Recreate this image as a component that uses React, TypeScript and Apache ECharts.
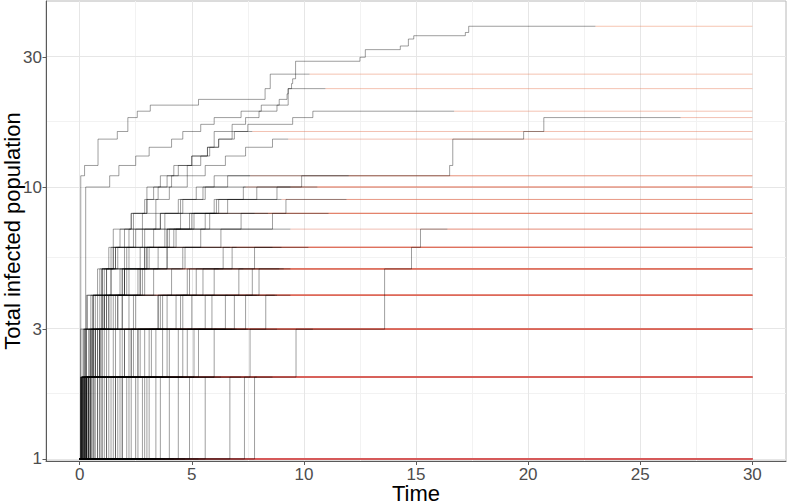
import React, { useEffect, useRef } from "react";
import * as echarts from "echarts";

// ---- axis ranges & ticks ----
const X_MIN = -1.5;
const X_MAX = 31.5;
const HORIZON = 30;
const xTickValues = [0, 5, 10, 15, 20, 25, 30];
const xMinorValues = [2.5, 7.5, 12.5, 17.5, 22.5, 27.5];
const Y_MIN = 0.983;
const Y_MAX = 48.3;
const yTickValues = [1, 3, 10, 30];
const yMinorValues = [1.732, 5.477, 17.32];

// ---- trajectories: step points [time, total infected]; all start at (0, 1) ----
const trajectorySteps: [number, number][][] = [
  // final size 1
  [], [], [], [], [], [], [], [], [], [], [], [], [], [], [], [], [], [],
  [], [], [], [],
  // final size 2
  [[0.05, 2]], [[0.2, 2]], [[0.35, 2]], [[0.5, 2]], [[0.9, 2]], [[1.2, 2]], [[1.6, 2]],
  [[2.1, 2]], [[2.5, 2]], [[3.0, 2]], [[3.6, 2]], [[4.4, 2]], [[6.7, 2]], [[7.8, 2]],
  [[0.12, 2]], [[1.0, 2]], [[1.9, 2]], [[4.0, 2]],
  // final size 3
  [[0.1, 2], [0.4, 3]], [[0.3, 2], [1.1, 3]], [[0.45, 2], [2.0, 3]], [[0.7, 2], [1.6, 3]],
  [[1.0, 2], [3.2, 3]], [[1.4, 2], [2.6, 3]], [[2.2, 2], [4.0, 3]], [[2.9, 2], [5.1, 3]],
  [[5.6, 2], [7.6, 3]], [[7.35, 2], [9.65, 3]],
  [[0.15, 2], [0.55, 3]], [[0.65, 2], [2.3, 3]], [[1.8, 2], [3.7, 3]], [[3.4, 2], [4.6, 3]],
  // final size 4
  [[0.1, 2], [0.25, 3], [0.6, 4]], [[0.2, 2], [0.8, 3], [1.9, 4]], [[0.4, 2], [1.3, 3], [2.4, 4]],
  [[0.8, 2], [1.8, 3], [3.5, 4]], [[1.1, 2], [2.7, 3], [4.3, 4]], [[1.9, 2], [3.4, 3], [5.6, 4]],
  [[2.6, 2], [4.8, 3], [6.9, 4]], [[4.9, 2], [6.0, 3], [8.3, 4]],
  [[0.3, 2], [0.45, 3], [1.0, 4]], [[1.5, 2], [2.9, 3], [4.6, 4]], [[3.1, 2], [5.3, 3], [7.4, 4]],
  // final size 5
  [[0.05, 2], [0.15, 3], [0.5, 4], [1.2, 5]], [[0.3, 2], [0.9, 3], [1.7, 4], [2.8, 5]],
  [[0.5, 2], [1.5, 3], [2.2, 4], [4.1, 5]], [[0.9, 2], [2.4, 3], [3.9, 4], [5.5, 5]],
  [[1.6, 2], [3.1, 3], [5.0, 4], [7.1, 5]], [[2.3, 2], [4.4, 3], [6.5, 4], [8.0, 5]],
  [[0.2, 2], [0.6, 3], [1.1, 4], [1.9, 5]], [[1.2, 2], [2.0, 3], [3.5, 4], [4.8, 5]],
  [[2.8, 2], [3.9, 3], [5.9, 4], [7.7, 5]],
  // final size 6
  [[0.1, 2], [0.2, 3], [0.35, 4], [0.9, 5], [1.4, 6]],
  [[0.25, 2], [0.7, 3], [1.3, 4], [2.1, 5], [3.0, 6]],
  [[0.6, 2], [1.2, 3], [2.5, 4], [3.3, 5], [4.7, 6]],
  [[1.3, 2], [2.2, 3], [3.7, 4], [5.2, 5], [6.4, 6]],
  [[0.4, 2], [1.9, 3], [4.5, 4], [6.0, 5], [7.8, 6]],
  [[0.5, 2], [1.0, 3], [1.6, 4], [2.7, 5], [3.9, 6]],
  [[1.7, 2], [2.6, 3], [3.6, 4], [4.9, 5], [6.8, 6]],
  // final size 7
  [[0.15, 2], [0.5, 3], [1.0, 4], [1.8, 5], [2.9, 6], [4.0, 7]],
  [[0.8, 2], [2.3, 3], [13.6, 5], [14.8, 6], [15.2, 7]],
  // final size 8
  [[0.05, 3], [0.3, 4], [0.8, 5], [1.5, 6], [2.4, 7], [3.6, 8]],
  [[0.2, 2], [0.6, 3], [1.1, 4], [2.0, 5], [3.1, 6], [4.2, 7], [5.8, 8]],
  [[0.4, 2], [0.9, 3], [1.7, 4], [2.9, 5], [4.6, 6], [6.3, 7], [8.6, 8]],
  [[0.25, 2], [0.7, 3], [1.2, 4], [1.9, 5], [2.7, 6], [3.9, 7], [5.1, 8]],
  // final size 9
  [[0.1, 2], [0.3, 3], [0.7, 4], [1.4, 5], [2.2, 6], [3.3, 7], [4.5, 8], [6.1, 9]],
  [[0.3, 2], [0.8, 3], [1.5, 4], [2.6, 5], [3.9, 6], [5.4, 7], [7.2, 8], [9.2, 9]],
  // final size 10
  [[0.05, 2], [0.2, 3], [0.6, 4], [1.0, 5], [1.6, 6], [2.5, 7], [3.4, 8], [4.4, 9], [5.6, 10]],
  [[0.4, 2], [1.0, 3], [1.9, 4], [2.7, 5], [3.5, 6], [4.3, 7], [5.6, 8], [6.6, 9], [7.9, 10]],
  [[0.2, 2], [0.9, 3], [1.3, 4], [2.2, 5], [3.0, 6], [3.9, 7], [5.0, 8], [6.2, 9], [8.8, 10]],
  // final size 11
  [[0.1, 2], [0.5, 3], [0.9, 4], [1.4, 5], [2.1, 6], [2.8, 7], [3.6, 8], [4.5, 9], [5.5, 10], [6.6, 11]],
  [[0.3, 2], [0.6, 3], [1.2, 4], [2.0, 5], [2.9, 6], [3.8, 7], [4.9, 8], [6.0, 9], [7.3, 10], [9.9, 11]],
  // final size 15
  [[0.2, 2], [0.5, 3], [0.8, 4], [1.2, 5], [1.7, 6], [2.2, 7], [2.8, 8], [3.4, 9], [4.0, 10],
   [4.8, 11], [5.6, 12], [6.5, 13], [7.4, 14], [8.6, 15]],
  // final size 16
  [[0.1, 2], [0.3, 3], [0.6, 4], [1.0, 5], [1.3, 6], [1.8, 7], [2.3, 8], [2.9, 9], [3.5, 10],
   [4.1, 11], [4.8, 12], [5.4, 13], [5.7, 14], [6.0, 16]],
  // final size 18
  [[0.3, 2], [0.9, 3], [1.4, 4], [2.0, 6], [2.9, 7], [3.8, 8], [4.6, 9], [5.2, 10], [6.0, 11],
   [16.5, 12], [16.64, 15], [19.8, 16], [20.7, 18]],
  // final size 19
  [[0.6, 3], [1.0, 5], [1.5, 7], [2.3, 8], [3.0, 10], [3.6, 11], [4.2, 12], [5.0, 13], [5.8, 14],
   [6.2, 15], [6.9, 16], [7.5, 17], [9.5, 18], [10.4, 19]],
  // final size 23
  [[0.5, 2], [0.7, 3], [1.1, 5], [1.6, 6], [2.0, 7], [2.4, 8], [3.0, 9], [3.3, 10], [3.9, 11],
   [4.4, 12], [5.0, 13], [5.7, 14], [6.2, 15], [6.8, 17], [7.4, 18], [8.0, 19], [8.8, 20], [9.3, 23]],
  // final size 26
  [[0.05, 11], [0.22, 12], [0.82, 15], [1.68, 16], [2.15, 18], [2.57, 19], [3.15, 20], [5.3, 21],
   [8.27, 23], [8.5, 26]],
  // final size 39
  [[0.27, 10], [1.34, 11], [1.75, 12], [2.5, 13], [3.1, 14], [4.1, 15], [4.6, 16], [5.4, 17],
   [6.0, 18], [7.2, 19], [8.1, 20], [8.9, 21], [9.25, 22], [9.3, 23], [9.45, 24], [9.5, 25],
   [9.63, 29], [12.5, 30], [12.74, 32], [14.3, 33], [14.66, 35], [14.9, 36], [17.2, 37], [17.35, 39]],
];

// time at which each trajectory stops (extinction)
const extinctionTimes: number[] = [
  // final size 1
  0.15, 0.3, 0.45, 0.6, 0.8, 1.0, 1.2, 1.5, 1.8, 2.0, 2.3, 2.7, 3.0, 3.4, 3.8, 4.2, 4.7, 5.3,
  0.25, 0.7, 1.35, 2.5,
  // final size 2
  0.9, 1.6, 2.2, 3.1, 2.8, 4.0, 3.5, 4.6, 5.1, 5.6, 6.3, 7.2, 7.9, 8.6,
  1.1, 2.4, 3.8, 6.0,
  // final size 3
  1.8, 2.9, 3.9, 4.4, 5.4, 6.1, 6.8, 7.5, 8.8, 10.4,
  2.0, 4.1, 6.5, 7.0,
  // final size 4
  1.5, 3.4, 4.8, 5.9, 6.6, 7.9, 8.7, 9.4,
  2.5, 6.9, 8.8,
  // final size 5
  2.6, 4.5, 6.2, 7.7, 8.9, 9.4,
  3.6, 7.3, 9.1,
  // final size 6
  3.2, 5.4, 7.0, 8.6, 10.2,
  6.7, 9.0,
  // final size 7
  9.4, 16.4,
  // final size 8
  6.1, 8.4, 11.1, 7.8,
  // final size 9
  9.0, 11.9,
  // final size 10
  7.4, 9.4, 10.6,
  // final size 11
  7.6, 12.0,
  // 15, 16, 18, 19, 23, 26, 39
  9.3, 7.7, 26.8, 16.7, 10.96, 10.25, 23.0,
];

const FONT = "'Liberation Sans', Arial, Helvetica, sans-serif";
const lg = (v: number) => Math.log10(v);

function tailColor(finalSize: number): string {
  const t = Math.min(1, lg(finalSize) / lg(39));
  const r = Math.round(212 + (232 - 212) * t);
  const g = Math.round(92 + (125 - 92) * t);
  const b = Math.round(92 + (82 - 92) * t);
  return `rgba(${r},${g},${b},0.45)`;
}

function buildOption() {
  const tails: any[] = [];
  const greys: any[] = [];
  trajectorySteps.forEach((steps, i) => {
    const end = extinctionTimes[i];
    const finalSize = steps.length ? steps[steps.length - 1][1] : 1;
    const pts: number[][] = [[0, lg(1)]];
    steps.forEach(([t, v]) => pts.push([t, lg(v)]));
    pts.push([end, lg(finalSize)]);
    greys.push({
      type: "line",
      data: pts,
      step: "end",
      symbol: "none",
      silent: true,
      emphasis: { disabled: true },
      lineStyle: { color: "rgba(0,0,0,0.38)", width: 1 },
      z: 3,
    });
    tails.push({
      type: "line",
      data: [
        [end, lg(finalSize)],
        [HORIZON, lg(finalSize)],
      ],
      symbol: "none",
      silent: true,
      emphasis: { disabled: true },
      lineStyle: { color: tailColor(finalSize), width: 1 },
      z: 2,
    });
  });

  const major = { color: "#E6E6E6", width: 1, type: "solid" };
  const minor = { color: "#F2F2F2", width: 1, type: "solid" };
  const gridSeries = {
    type: "line",
    data: [],
    silent: true,
    z: 0,
    markLine: {
      silent: true,
      z: 0,
      symbol: ["none", "none"],
      label: { show: false },
      emphasis: { disabled: true },
      data: [
        ...xMinorValues.map((v) => ({ xAxis: v, lineStyle: minor })),
        ...yMinorValues.map((v) => ({ yAxis: lg(v), lineStyle: minor })),
        ...xTickValues.map((v) => ({ xAxis: v, lineStyle: major })),
        ...yTickValues.map((v) => ({ yAxis: lg(v), lineStyle: major })),
      ],
    },
  };

  return {
    animation: false,
    backgroundColor: "#ffffff",
    grid: {
      left: 46,
      right: 1,
      top: 1,
      bottom: 41,
      show: true,
      borderColor: "#B8B8B8",
      borderWidth: 1,
      containLabel: false,
      outerBoundsMode: "none",
    },
    xAxis: {
      type: "value",
      min: X_MIN,
      max: X_MAX,
      z: 4,
      splitLine: { show: false },
      axisLine: { show: true, onZero: false, lineStyle: { color: "#5A5A5A", width: 1 } },
      axisTick: { show: true, customValues: xTickValues, length: 4, lineStyle: { color: "#5A5A5A" } },
      axisLabel: {
        customValues: xTickValues,
        color: "#4D4D4D",
        fontSize: 17,
        lineHeight: 17,
        fontFamily: FONT,
        margin: 5,
        formatter: (v: number) => String(Math.round(v)),
      },
      name: "Time",
      nameLocation: "middle",
      nameMoveOverlap: false,
      nameGap: 24,
      nameTextStyle: { color: "#000000", fontSize: 22, lineHeight: 16, fontFamily: FONT },
    },
    yAxis: {
      type: "value",
      min: lg(Y_MIN),
      max: lg(Y_MAX),
      z: 4,
      splitLine: { show: false },
      axisLine: { show: true, onZero: false, lineStyle: { color: "#5A5A5A", width: 1 } },
      axisTick: {
        show: true,
        customValues: yTickValues.map(lg),
        length: 3.5,
        lineStyle: { color: "#5A5A5A" },
      },
      axisLabel: {
        customValues: yTickValues.map(lg),
        color: "#4D4D4D",
        fontSize: 17,
        fontFamily: FONT,
        margin: 4,
        formatter: (v: number) => String(Math.round(Math.pow(10, v))),
      },
      name: "Total infected population",
      nameLocation: "middle",
      nameMoveOverlap: false,
      nameRotate: 90,
      nameGap: 23,
      nameTextStyle: { color: "#000000", fontSize: 22, fontFamily: FONT },
    },
    series: [gridSeries, ...tails, ...greys],
  };
}

export default function App() {
  const ref = useRef<HTMLDivElement>(null);
  useEffect(() => {
    if (!ref.current) return;
    const chart = echarts.init(ref.current, undefined, { renderer: "svg" });
    chart.setOption(buildOption() as any);
    return () => chart.dispose();
  }, []);
  return (
    <div
      ref={ref}
      style={{ position: "fixed", left: 0, top: 0, width: 787, height: 502, background: "#fff" }}
    />
  );
}
